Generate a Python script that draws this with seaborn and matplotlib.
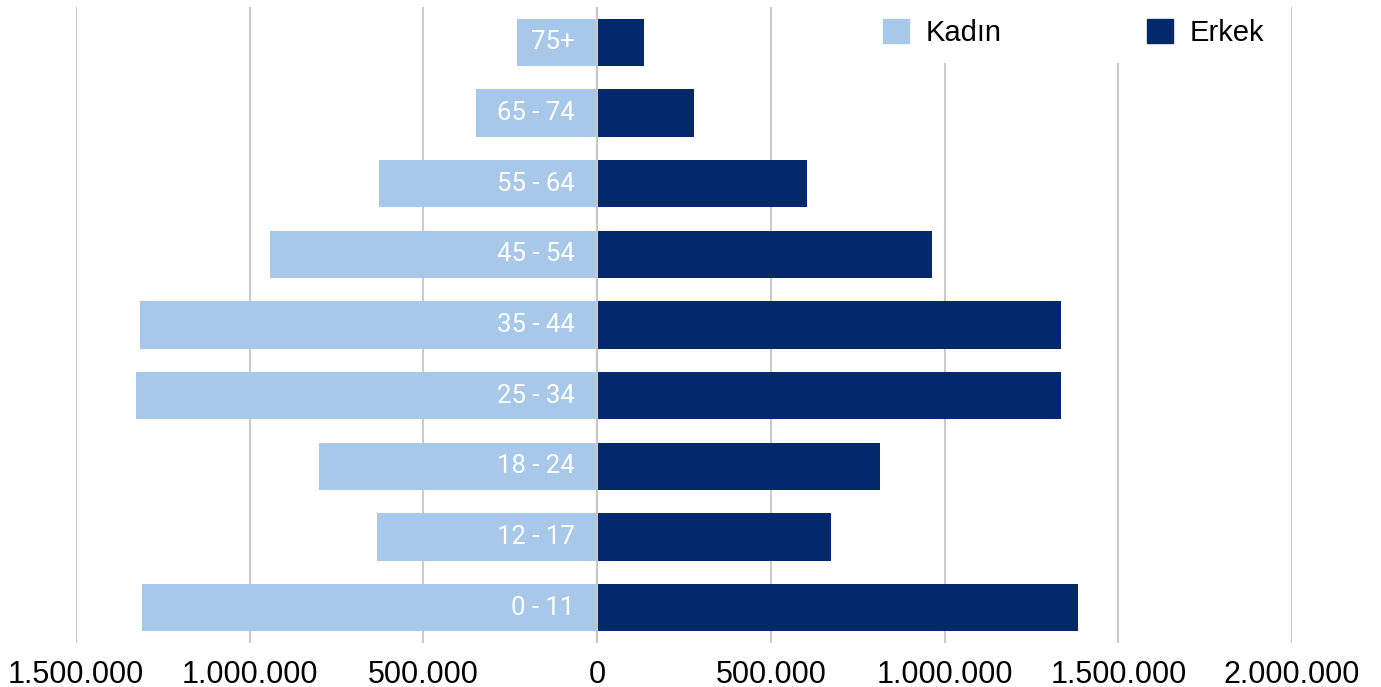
import pandas as pd
import numpy as np
import matplotlib.pyplot as plt
import seaborn as sns
from matplotlib.patches import Patch
from matplotlib.ticker import FuncFormatter

# data
ages = ["75+", "65 - 74", "55 - 64", "45 - 54", "35 - 44", "25 - 34", "18 - 24", "12 - 17", "0 - 11"]
kadin = [230000, 348000, 627000, 942000, 1316000, 1328000, 801000, 635000, 1310000]
erkek = [136000, 280000, 605000, 965000, 1336000, 1336000, 815000, 674000, 1384000]
ticks = [-1500000, -1000000, -500000, 0, 500000, 1000000, 1500000, 2000000]

c_kadin = "#A7C8E8"
c_erkek = "#03286B"

df = pd.DataFrame({"age": ages, "kadin": [-v for v in kadin], "erkek": erkek})

sns.set_style("white")
plt.rcParams["font.family"] = ["Liberation Sans Narrow", "Liberation Sans", "DejaVu Sans"]

fig = plt.figure(figsize=(13.81, 6.87), dpi=100)
ax = fig.add_axes([0.055, 0.064, 0.8806, 0.9258])

sns.barplot(data=df, x="kadin", y="age", order=ages, color=c_kadin, width=0.67,
            saturation=1, orient="h", ax=ax, zorder=3, linewidth=0)
sns.barplot(data=df, x="erkek", y="age", order=ages, color=c_erkek, width=0.67,
            saturation=1, orient="h", ax=ax, zorder=3, linewidth=0)
ax.axvline(0, color="#C8C8C8", linewidth=1.5, zorder=3.5)

# age labels inside the female bars
for i, a in enumerate(ages):
    ax.text(-65000, i, a, color="white", ha="right", va="center", fontsize=18.5,
            family=["Roboto", "DejaVu Sans"], zorder=4)

ax.set_xlim(-1500000, 2000000)
ax.set_ylim(8.5, -0.5)
ax.set_xticks(ticks)
ax.xaxis.set_major_formatter(FuncFormatter(lambda v, p: f"{abs(int(v)):,}".replace(",", ".")))
ax.tick_params(axis="x", length=0, pad=12, labelsize=22, labelcolor="black")
ax.set_yticks([])
ax.set_xlabel("")
ax.set_ylabel("")
ax.grid(axis="x", color="#CCCCCC", linewidth=1.5, zorder=0)
ax.set_axisbelow(True)
for s in ax.spines.values():
    s.set_visible(False)

handles = [Patch(color=c_kadin, label="Kadın"), Patch(color=c_erkek, label="Erkek")]
leg = ax.legend(handles=handles, loc="upper right", bbox_to_anchor=(0.99, 1.006), ncol=2,
                frameon=True, facecolor="white", edgecolor="none", framealpha=1,
                fontsize=21, handlelength=0.9, handleheight=0.9, handletextpad=0.55,
                columnspacing=5.0, borderaxespad=0, borderpad=0.55)
for t in leg.get_texts():
    t.set_color("black")
leg.set_zorder(5)

plt.savefig("out.png", dpi=100)
